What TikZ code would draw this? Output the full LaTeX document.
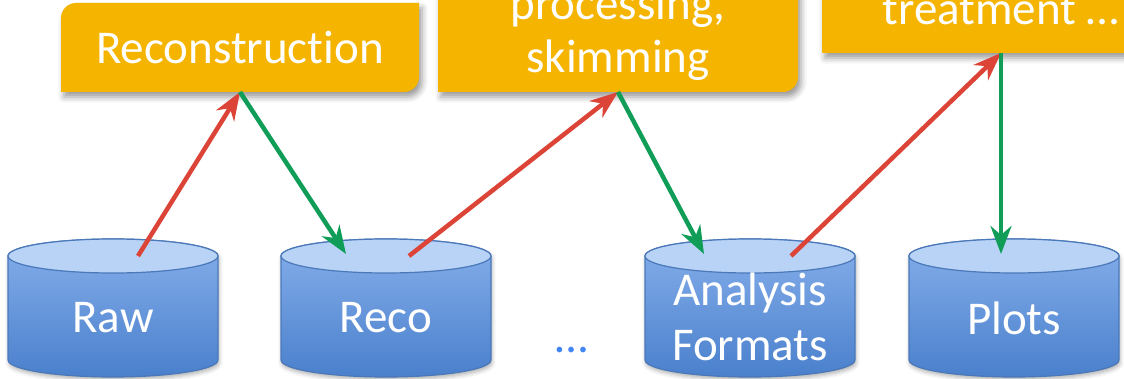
\documentclass[tikz,border=0pt]{standalone}
\usepackage{fontspec}
\setmainfont{Carlito}[Ligatures={NoCommon,NoContextual}]
\usetikzlibrary{arrows.meta,calc,shadows.blur}
\definecolor{boxor}{HTML}{F4B400}
\definecolor{arrred}{HTML}{DB4437}
\definecolor{arrgreen}{HTML}{0F9D58}
\definecolor{cyltop}{HTML}{86AFEB}
\definecolor{cylbot}{HTML}{4A80CC}
\definecolor{cylcap}{HTML}{B8D3F6}
\definecolor{cyledge}{HTML}{4A78B8}
\definecolor{dotblue}{HTML}{4285F4}
\tikzset{
  boxnode/.style={rectangle, inner sep=0pt, outer sep=0pt},
  boxtext/.style={text=white, inner sep=0pt, font=\fontsize{47}{55}\selectfont},
  cyltext/.style={text=white, inner sep=0pt, align=center,
    font=\fontsize{47}{55}\selectfont},
  flowup/.style={draw=arrred, line width=4.5pt,
    -{Stealth[length=28pt,width=21pt,inset=9pt]}},
  flowdown/.style={draw=arrgreen, line width=4.5pt,
    -{Stealth[length=28pt,width=21pt,inset=9pt]}},
  boxfill/.style={fill=boxor, blur shadow={shadow xshift=3pt, shadow yshift=-5pt,
    shadow blur radius=6pt, shadow opacity=40}},
  cylbody/.style={top color=cyltop, bottom color=cylbot, draw=cyledge, line width=1.2pt,
    blur shadow={shadow xshift=1pt, shadow yshift=-3pt, shadow blur radius=4pt, shadow opacity=30}},
  cylcapst/.style={fill=cylcap, draw=cyledge, line width=1.2pt},
}
\newcommand\dbcyl[2]{%
  \coordinate (#1top) at (#2,122);
  \path[cylbody] (#2-105,122) -- (#2-105,18)
    arc[start angle=180,end angle=360,x radius=105,y radius=17]
    -- (#2+105,122) arc[start angle=0,end angle=180,x radius=105,y radius=17] -- cycle;
  \path[cylcapst] (#1top) ellipse[x radius=105,y radius=17];
}
\newcommand\cornerbox[1]{%
  \fill[boxfill] (#1.south west) -- ([yshift=-15pt]#1.north west)
    arc[start angle=180,end angle=90,radius=15pt] -- (#1.north east)
    -- ([yshift=15pt]#1.south east) arc[start angle=0,end angle=-90,radius=15pt] -- cycle;
}
\begin{document}
\begin{tikzpicture}[x=1pt,y=1pt]
\useasboundingbox (0,0) rectangle (1124,378);
\clip (0,0) rectangle (1124,378);

% processing boxes (shapes)
\node[boxnode, minimum width=358pt, minimum height=89pt] (recon) at (240,330.5) {};
\node[boxnode, minimum width=360pt, minimum height=154pt] (skim) at (618,363) {};
\node[boxnode, minimum width=358pt, minimum height=125pt] (treat) at (1001,387.5) {};
\cornerbox{recon}
\cornerbox{skim}
\cornerbox{treat}
% processing box texts
\node[boxtext] (reconT) at (recon.center) {Reconstruction};
\node[boxtext, anchor=base] (skimA) at (618,358) {processing,};
\node[boxtext, anchor=base] (skimB) at (618,305) {skimming};
\node[boxtext, anchor=base] (treatA) at (1001,353) {treatment …};

% data stores
\dbcyl{raw}{113}
\dbcyl{reco}{386}
\dbcyl{af}{750}
\dbcyl{plots}{1014}
\node[cyltext] (raw) at (113,60) {Raw};
\node[cyltext] (reco) at (386,60) {Reco};
\node[cyltext] (af) at (750,61) {Analysis\\Formats};
\node[cyltext] (plots) at (1014,60) {Plots};
\node[anchor=base, inner sep=0pt, text=dotblue, font=\fontsize{47}{55}\selectfont] (dots) at (572,26) {…};

% flows
\draw[flowup] ([xshift=25pt]rawtop) -- (recon.south);
\draw[flowdown] (recon.south) -- ([xshift=-40pt,yshift=2pt]recotop);
\draw[flowup] ([xshift=23pt]recotop) -- (skim.south);
\draw[flowdown] (skim.south) -- ([xshift=-46pt,yshift=2pt]aftop);
\draw[flowup] ([xshift=41pt]aftop) -- (treat.south);
\draw[flowdown] (treat.south) -- ([xshift=-13pt,yshift=2pt]plotstop);
\end{tikzpicture}
\end{document}
